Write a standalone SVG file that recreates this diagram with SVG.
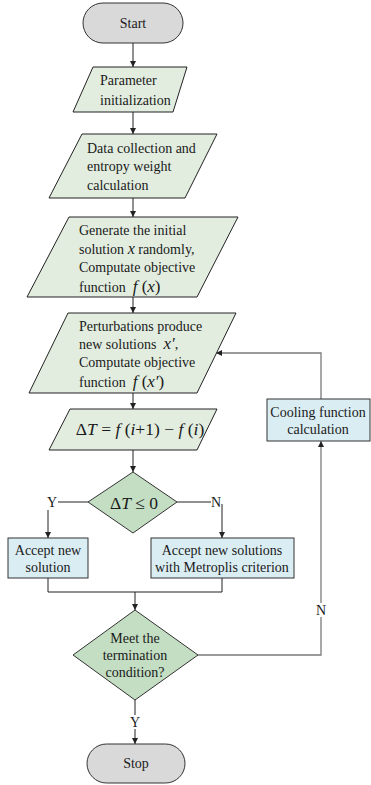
<svg xmlns="http://www.w3.org/2000/svg" width="371" height="785" viewBox="0 0 371 785" font-family="'Liberation Serif', 'Times New Roman', 'DejaVu Serif', serif">
<defs>
<marker id="ah" viewBox="0 0 10 10" refX="10" refY="5" markerWidth="6" markerHeight="6" orient="auto" markerUnits="userSpaceOnUse">
<path d="M0,0 L10,5 L0,10 z" fill="#222"/>
</marker>
<style>
text{font-family:'Liberation Serif','Times New Roman','DejaVu Serif',serif;font-size:14px;fill:#1a1a1a}
.c{text-anchor:middle}
.m{font-size:17.5px}
.i{font-style:italic}
.term{fill:#d9d9d9;stroke:#333;stroke-width:1}
.para{fill:#e2ede0;stroke:#222;stroke-width:1}
.dia{fill:#c3dec3;stroke:#333;stroke-width:1}
.box{fill:#daedf3;stroke:#333;stroke-width:1}
.ln{fill:none;stroke:#222;stroke-width:1}
.lg{fill:none;stroke:#7a7a7a;stroke-width:1.3}
</style>
</defs>
<rect width="371" height="785" fill="#fff"/>
<g id="connectors">
<line class="ln" x1="133" y1="43" x2="133" y2="67" marker-end="url(#ah)"/>
<line class="ln" x1="133" y1="112" x2="133" y2="134" marker-end="url(#ah)"/>
<line class="ln" x1="133" y1="198" x2="133" y2="217" marker-end="url(#ah)"/>
<line class="ln" x1="133" y1="297" x2="133" y2="313" marker-end="url(#ah)"/>
<line class="ln" x1="133" y1="393" x2="133" y2="409" marker-end="url(#ah)"/>
<line class="ln" x1="133" y1="450" x2="133" y2="472" marker-end="url(#ah)"/>
<line class="ln" x1="88" y1="502" x2="58" y2="502"/>
<line class="ln" x1="48" y1="510" x2="48" y2="538" marker-end="url(#ah)"/>
<line class="ln" x1="177" y1="502" x2="211" y2="502"/>
<line class="ln" x1="222" y1="504" x2="222" y2="538" marker-end="url(#ah)"/>
<polyline class="ln" points="48,578 48,592 222,592 222,578"/>
<line class="ln" x1="135" y1="592" x2="135" y2="610" marker-end="url(#ah)"/>
<polyline class="lg" points="198,655 321,655 321,617"/>
<line class="lg" x1="321" y1="603" x2="321" y2="441" marker-end="url(#ah)"/>
<polyline class="lg" points="321,399 321,353 216,353" marker-end="url(#ah)"/>
<line class="ln" x1="135" y1="700" x2="135" y2="715"/>
<line class="ln" x1="135" y1="729" x2="135" y2="744" marker-end="url(#ah)"/>
<text x="52" y="507" class="c">Y</text>
<text x="216" y="507" class="c">N</text>
<text x="321" y="615" class="c">N</text>
<text x="135" y="727" class="c">Y</text>
</g>
<g id="start">
<rect class="term" x="83" y="3" width="100" height="40" rx="20" ry="20"/>
<text x="133" y="28" class="c">Start</text>
</g>
<g id="param">
<polygon class="para" points="93,67 187,67 173,112 73,112"/>
<text x="100" y="85">Parameter</text>
<text x="100" y="105">initialization</text>
</g>
<g id="data">
<polygon class="para" points="82,134 217,134 185,198 49,198"/>
<text x="87" y="153">Data collection and</text>
<text x="87" y="171">entropy weight</text>
<text x="87" y="190">calculation</text>
</g>
<g id="generate">
<polygon class="para" points="69,217 238,217 197,297 27,297"/>
<text x="79" y="235">Generate the initial</text>
<text x="79" y="254">solution <tspan class="i" font-size="16">x</tspan> randomly,</text>
<text x="79" y="272">Computate objective</text>
<text x="79" y="292" xml:space="preserve">function  <tspan class="i" font-size="17">f</tspan><tspan font-size="17"> (</tspan><tspan class="i" font-size="17">x</tspan><tspan font-size="17">)</tspan></text>
</g>
<g id="perturb">
<polygon class="para" points="68,313 236,313 197,393 29,393"/>
<text x="79" y="331">Perturbations produce</text>
<text x="79" y="349" xml:space="preserve">new solutions  <tspan class="i" font-size="17">x′</tspan>,</text>
<text x="79" y="367">Computate objective</text>
<text x="79" y="387" xml:space="preserve">function  <tspan class="i" font-size="17">f</tspan><tspan font-size="17"> (</tspan><tspan class="i" font-size="17">x′</tspan><tspan font-size="17">)</tspan></text>
</g>
<g id="deltaT">
<polygon class="para" points="70,409 217,409 197,450 49,450"/>
<text x="140" y="435" class="c m" xml:space="preserve">Δ<tspan class="i">T</tspan> = <tspan class="i">f</tspan> (<tspan class="i">i</tspan>+1) − <tspan class="i">f</tspan> (<tspan class="i">i</tspan>)</text>
</g>
<g id="decision1">
<polygon class="dia" points="133,472 177,502 133,533 88,502"/>
<text x="134" y="509" class="c m">Δ<tspan class="i">T</tspan> ≤ 0</text>
</g>
<g id="accept">
<rect class="box" x="8" y="538" width="80" height="40"/>
<text x="48" y="555" class="c">Accept new</text>
<text x="48" y="572" class="c">solution</text>
</g>
<g id="metropolis">
<rect class="box" x="151" y="538" width="143" height="40"/>
<text x="222" y="555" class="c">Accept new solutions</text>
<text x="222" y="572" class="c">with Metroplis criterion</text>
</g>
<g id="cooling">
<rect class="box" x="267" y="399" width="103" height="42"/>
<text x="318" y="417" class="c">Cooling function</text>
<text x="318" y="434" class="c">calculation</text>
</g>
<g id="decision2">
<polygon class="dia" points="135,610 198,655 135,700 73,655"/>
<text x="135" y="643" class="c">Meet the</text>
<text x="135" y="660" class="c">termination</text>
<text x="135" y="677" class="c">condition?</text>
</g>
<g id="stop">
<rect class="term" x="87" y="744" width="98" height="39" rx="19.5" ry="19.5"/>
<text x="136" y="768" class="c">Stop</text>
</g>
</svg>
